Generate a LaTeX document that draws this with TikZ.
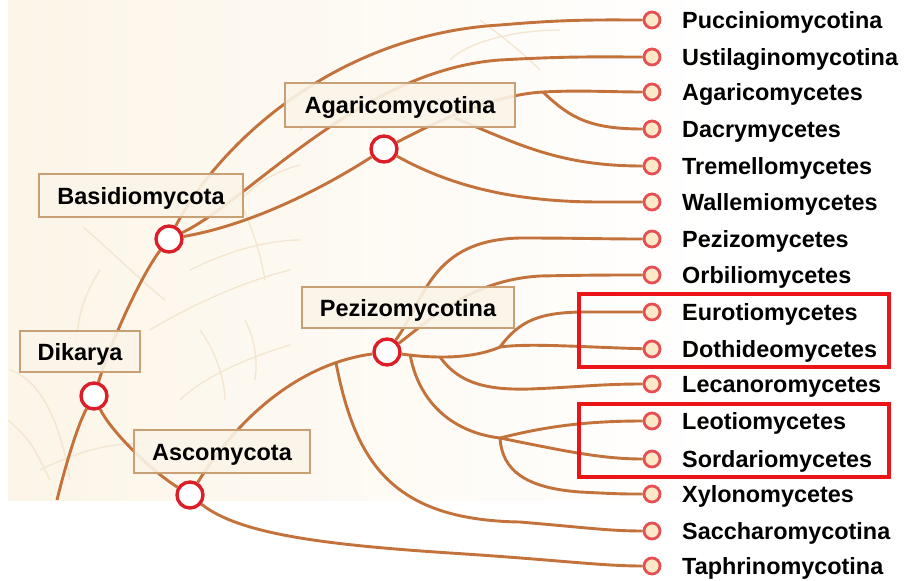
\documentclass[tikz,border=0pt]{standalone}
\usepackage{fontspec}
\setmainfont{Liberation Sans}
\usetikzlibrary{backgrounds}
\definecolor{edgec}{RGB}{194,114,58}
\definecolor{redc}{RGB}{220,30,40}
\definecolor{leafc}{RGB}{230,80,82}
\definecolor{leaff}{RGB}{253,232,200}
\definecolor{boxf}{RGB}{251,244,232}
\definecolor{boxc}{RGB}{200,160,115}
\definecolor{hlc}{RGB}{235,20,25}
\definecolor{bgc}{RGB}{252,245,232}
\definecolor{hyc}{RGB}{244,229,208}
\tikzset{
  edge/.style={draw=edgec, line width=2.9pt},
  inode/.style={circle, draw=redc, fill=white, line width=3.4pt, minimum size=26pt, inner sep=0pt},
  leaf/.style={circle, draw=leafc, fill=leaff, line width=2.8pt, minimum size=16pt, inner sep=0pt},
  tbox/.style={draw=boxc, fill=boxf, fill opacity=0.9, text opacity=1, line width=1.4pt, inner sep=0pt,
    text height=17pt, text depth=0pt, font=\fontsize{23.5}{28}\selectfont\bfseries},
  lab/.style={anchor=west, inner sep=0pt, text height=17pt, text depth=0pt,
    font=\fontsize{23.4}{28}\selectfont\bfseries},
  hlbox/.style={draw=hlc, line width=3.5pt, inner sep=0pt},
  hypha/.style={draw=hyc, line width=1.3pt, line cap=round}
}
\begin{document}
\begin{tikzpicture}[x=1pt,y=-1pt]
\useasboundingbox (0,0) rectangle (906,581);
% internal nodes
\node[inode] (dik) at (94,396) {};
\node[inode] (basc) at (169,239) {};
\node[inode] (agc) at (384,149) {};
\node[inode] (asc) at (190,495) {};
\node[inode] (pzc) at (387,352) {};
% label boxes
\node[tbox, minimum width=204pt, minimum height=43pt] (basb) at (141,195.5) {Basidiomycota};
\node[tbox, minimum width=230pt, minimum height=44pt] (agb) at (400,105) {Agaricomycotina};
\node[tbox, minimum width=120pt, minimum height=41pt] (dikb) at (80,351.5) {Dikarya};
\node[tbox, minimum width=176pt, minimum height=43pt] (ascb) at (222,451.5) {Ascomycota};
\node[tbox, minimum width=212pt, minimum height=41pt] (pzb) at (408,307.5) {Pezizomycotina};
% leaves
\foreach \i/\y/\t in {1/20/Pucciniomycotina, 2/57/Ustilaginomycotina, 3/92/Agaricomycetes,
  4/129/Dacrymycetes, 5/166/Tremellomycetes, 6/202/Wallemiomycetes, 7/239/Pezizomycetes,
  8/275/Orbiliomycetes, 9/312/Eurotiomycetes, 10/349/Dothideomycetes, 11/384/Lecanoromycetes,
  12/421/Leotiomycetes, 13/459/Sordariomycetes, 14/494/Xylonomycetes, 15/531/Saccharomycotina,
  16/566/Taphrinomycotina}{
  \node[leaf] (t\i) at (652,\y) {};
  \node[lab] (l\i) at (682,\y) {\t};
}
% highlight boxes
\node[hlbox, minimum width=310pt, minimum height=73pt] (hl1) at (734,330.5) {};
\node[hlbox, minimum width=310pt, minimum height=73pt] (hl2) at (734,440.5) {};
% branch points
\coordinate (r0) at (57,500);
\coordinate (pa) at (543,92);
\coordinate (q1) at (455,118);
\coordinate (ps) at (336,363);
\coordinate (p1) at (500,347);
\coordinate (pl) at (440,357);
\coordinate (pd) at (410,354);
\coordinate (p2) at (500,438);
\begin{pgfonlayer}{background}
  \fill[white] (0,0) rectangle (906,581);
  \shade[left color=bgc, right color=white] (8,0) rectangle (720,500);
  % faint hyphae
  \draw[hypha] (83,227) .. controls (110,250) and (140,280) .. (165,300);
  \draw[hypha] (100,270) .. controls (80,300) and (75,330) .. (78,350);
  \draw[hypha] (150,330) .. controls (200,300) and (250,280) .. (290,270);
  \draw[hypha] (10,370) .. controls (40,380) and (60,420) .. (70,480);
  \draw[hypha] (8,420) .. controls (30,440) .. (50,480);
  \draw[hypha] (180,400) .. controls (200,380) and (240,360) .. (290,345);
  \draw[hypha] (245,320) .. controls (255,340) and (258,360) .. (255,380);
  \draw[hypha] (190,270) .. controls (230,250) and (270,240) .. (300,240);
  \draw[hypha] (240,200) .. controls (260,180) and (280,170) .. (300,165);
  \draw[hypha] (300,130) .. controls (320,110) and (360,100) .. (400,95);
  \draw[hypha] (450,60) .. controls (470,40) and (520,30) .. (560,30);
  \draw[hypha] (480,20) .. controls (500,35) and (520,50) .. (540,70);
  \draw[hypha] (230,180) .. controls (250,220) and (260,250) .. (265,280);
  \draw[hypha] (40,470) .. controls (80,450) and (120,440) .. (150,445);
  \draw[hypha] (200,330) .. controls (215,350) and (225,380) .. (225,400);
  % edges
  \draw[edge] (r0) .. controls (68,455) and (80,420) .. (dik);
  \draw[edge] (dik) .. controls (115,330) and (145,270) .. (basc);
  \draw[edge] (dik) .. controls (110,430) and (150,470) .. (asc);
  \draw[edge] (basc) .. controls (215,150) and (330,35) .. (500,25) .. controls (570,19) and (600,20) .. (t1);
  \draw[edge] (basc) .. controls (250,200) and (360,70) .. (500,60) .. controls (570,56) and (600,57) .. (t2);
  \draw[edge] (basc) .. controls (250,225) and (320,190) .. (agc);
  \draw[edge] (agc) .. controls (430,125) and (490,95) .. (pa) .. controls (580,90) and (610,92) .. (t3);
  \draw[edge] (pa) .. controls (570,118) and (590,129) .. (t4);
  \draw[edge] (q1) .. controls (520,145) and (560,166) .. (t5);
  \draw[edge] (agc) .. controls (440,180) and (500,202) .. (600,202) -- (t6);
  \draw[edge] (asc) .. controls (230,430) and (290,365) .. (pzc);
  \draw[edge] (ps) .. controls (355,460) and (390,520) .. (520,522) .. controls (590,528) and (610,531) .. (t15);
  \draw[edge] (asc) .. controls (240,535) and (330,545) .. (450,553) .. controls (560,560) and (600,566) .. (t16);
  \draw[edge] (pzc) .. controls (425,300) and (430,240) .. (520,238) .. controls (580,238) and (600,239) .. (t7);
  \draw[edge] (pzc) .. controls (430,320) and (470,280) .. (540,276) .. controls (590,275) and (610,275) .. (t8);
  \draw[edge] (pzc) .. controls (430,358) and (470,360) .. (p1);
  \draw[edge] (p1) .. controls (520,320) and (540,313) .. (580,312) -- (t9);
  \draw[edge] (p1) .. controls (530,343) and (580,347) .. (t10);
  \draw[edge] (pl) .. controls (460,385) and (490,390) .. (530,389) .. controls (580,387) and (600,384) .. (t11);
  \draw[edge] (pd) .. controls (418,400) and (450,432) .. (p2);
  \draw[edge] (p2) .. controls (540,428) and (580,421) .. (t12);
  \draw[edge] (p2) .. controls (560,450) and (600,459) .. (t13);
  \draw[edge] (p2) .. controls (502,470) and (525,488) .. (580,492) .. controls (620,494) .. (t14);
\end{pgfonlayer}
\end{tikzpicture}
\end{document}
